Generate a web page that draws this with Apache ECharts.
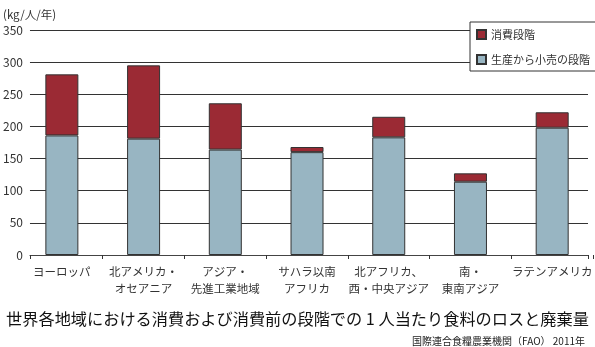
<!DOCTYPE html>
<html><head><meta charset="utf-8">
<script src="https://cdn.jsdelivr.net/npm/echarts@6/dist/echarts.min.js"></script>
<style>html,body{margin:0;padding:0;background:#fff}#c{width:595px;height:347px}</style>
</head><body><div id="c"></div>
<script>
const categories = ['ヨーロッパ','北アメリカ・\nオセアニア','アジア・\n先進工業地域','サハラ以南\nアフリカ','北アフリカ、\n西・中央アジア','南・\n東南アジア','ラテンアメリカ'];
const preConsumer = [186, 181, 164, 160, 183, 114, 198];
const consumer = [95, 114, 72, 8, 32, 13, 24];
const yTicks = {min: 0, max: 350, interval: 50};
const seriesNames = ['消費段階', '生産から小売の段階'];
const titleText = '世界各地域における消費および消費前の段階での 1 人当たり食料のロスと廃棄量';
const sourceText = '国際連合食糧農業機関（FAO） 2011年';
const unitText = '(kg/人/年)';

const font = '"Noto Sans CJK JP", "Noto Sans", sans-serif';
const chart = echarts.init(document.getElementById('c'));
chart.setOption({
  animation: false,
  textStyle: {fontFamily: font},
  title: [
    {text: unitText, left: -2, top: 4, textStyle: {fontSize: 11.5, fontWeight: 'normal', color: '#333', fontFamily: font}},
    {text: titleText, left: 'center', top: 306, textStyle: {fontSize: 16.2, fontWeight: 'normal', color: '#111', fontFamily: font}},
    {text: sourceText, right: 5, top: 331, textStyle: {fontSize: 10, fontWeight: 'normal', color: '#222', fontFamily: font}}
  ],
  legend: {
    data: seriesNames,
    icon: 'rect',
    orient: 'vertical',
    left: 470, top: 22,
    padding: [7, 8, 6, 6],
    itemGap: 14,
    itemWidth: 9, itemHeight: 9, itemTextGap: 6,
    backgroundColor: '#fff',
    borderColor: '#333', borderWidth: 1,
    textStyle: {fontSize: 11, color: '#333', fontFamily: font}
  },
  grid: [
    {left: 21, width: 578, top: 30, height: 225},
    {left: 27, right: 7, top: 30, height: 225}
  ],
  xAxis: [
    {type: 'category', gridIndex: 0, data: categories,
     axisLine: {show: false},
     axisTick: {show: true, length: 4, lineStyle: {color: '#333'}, interval: function(i){return i !== 0;}},
     axisLabel: {fontSize: 11.5, color: '#333', lineHeight: 17, margin: 8, interval: 0, fontFamily: font},
     splitLine: {show: false}},
    {type: 'value', gridIndex: 1, min: 0, max: 1, interval: 1,
     axisLine: {show: true, lineStyle: {color: '#444'}},
     axisTick: {show: true, length: 4, lineStyle: {color: '#333'}},
     axisLabel: {show: false}, splitLine: {show: false}}
  ],
  yAxis: [
    {type: 'value', gridIndex: 0, min: yTicks.min, max: yTicks.max, interval: yTicks.interval, show: false, splitLine: {show: false}},
    {type: 'value', gridIndex: 1, min: yTicks.min, max: yTicks.max, interval: yTicks.interval,
     axisLine: {show: false}, axisTick: {show: false},
     axisLabel: {fontSize: 12, color: '#333', margin: 7, fontFamily: font},
     splitLine: {show: true, lineStyle: {color: '#333', width: 1}}}
  ],
  series: [
    {name: seriesNames[1], type: 'bar', stack: 's', xAxisIndex: 0, yAxisIndex: 0, barWidth: 33,
     data: preConsumer,
     itemStyle: {color: '#98b5c2', borderColor: '#333', borderWidth: 1}},
    {name: seriesNames[0], type: 'bar', stack: 's', xAxisIndex: 0, yAxisIndex: 0, barWidth: 33,
     data: consumer,
     itemStyle: {color: '#9b2a34', borderColor: '#333', borderWidth: 1}}
  ]
});
</script></body></html>
